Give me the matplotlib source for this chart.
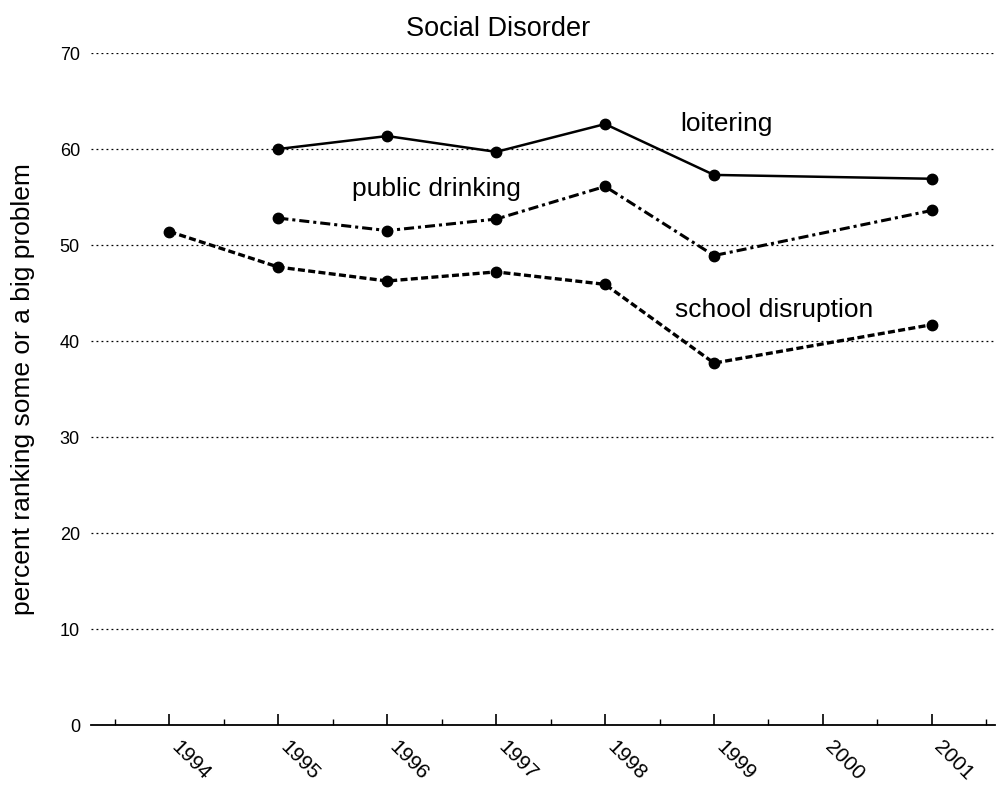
import matplotlib.pyplot as plt
from matplotlib.ticker import MultipleLocator
from matplotlib.transforms import ScaledTranslation

plt.rcParams['font.family'] = ['Liberation Sans', 'DejaVu Sans']

# Datos
years = [1994, 1995, 1996, 1997, 1998, 1999, 2000, 2001]
loiter_years = [1995, 1996, 1997, 1998, 1999, 2001]
loitering = [60.0, 61.35, 59.7, 62.6, 57.3, 56.9]
drink_years = [1995, 1996, 1997, 1998, 1999, 2001]
public_drinking = [52.8, 51.5, 52.7, 56.1, 48.9, 53.6]
school_years = [1994, 1995, 1996, 1997, 1998, 1999, 2001]
school_disruption = [51.4, 47.7, 46.25, 47.2, 45.9, 37.7, 41.7]

fig = plt.figure(figsize=(9.97, 7.87), dpi=100)
ax = fig.add_axes([91 / 997, 62 / 787, 904 / 997, 672 / 787])

ax.plot(loiter_years, loitering, color='black', lw=1.8, marker='o', ms=7.5)
ax.plot(drink_years, public_drinking, color='black', lw=2.2, marker='o', ms=7.5,
        dashes=(3.3, 1.3, 1.0, 1.3))
ax.plot(school_years, school_disruption, color='black', lw=2.4, marker='o', ms=7.5,
        dashes=(2.1, 1.0))

ax.text(1998.69, 61.9, 'loitering', fontsize=19, ha='left', va='baseline')
ax.text(1995.68, 55.1, 'public drinking', fontsize=19, ha='left', va='baseline')
ax.text(1998.64, 42.5, 'school disruption', fontsize=19, ha='left', va='baseline')

ax.set_xlim(1993.28, 2001.58)
ax.set_ylim(0, 70)
ax.set_xticks(years)
ax.set_xticklabels([str(y) for y in years], rotation=-45, ha='left', va='top',
                   rotation_mode='anchor', fontsize=15)
ax.xaxis.set_minor_locator(MultipleLocator(1, offset=0.5))
ax.tick_params(axis='x', which='major', direction='in', length=8, width=1.2, pad=9)
ax.tick_params(axis='x', which='minor', direction='in', length=4, width=1)
ax.set_yticks(range(0, 71, 10))
ax.tick_params(axis='y', length=0, labelsize=13, pad=8)

# mover un poco las etiquetas del eje x a la derecha
offset = ScaledTranslation(0.12, 0, fig.dpi_scale_trans)
for lbl in ax.get_xticklabels():
    lbl.set_transform(lbl.get_transform() + offset)

ax.yaxis.grid(True, linestyle=(0, (1.5, 2.5)), color='black', lw=0.9)
for s in ['top', 'right', 'left']:
    ax.spines[s].set_visible(False)
ax.spines['bottom'].set_linewidth(1.3)
ax.set_axisbelow(True)

fig.text(0.5, 1 - 29 / 787, 'Social Disorder', fontsize=19.5, ha='center', va='center')
ax.set_ylabel('percent ranking some or a big problem', fontsize=19, labelpad=18)

fig.savefig('out.png', dpi=100)
